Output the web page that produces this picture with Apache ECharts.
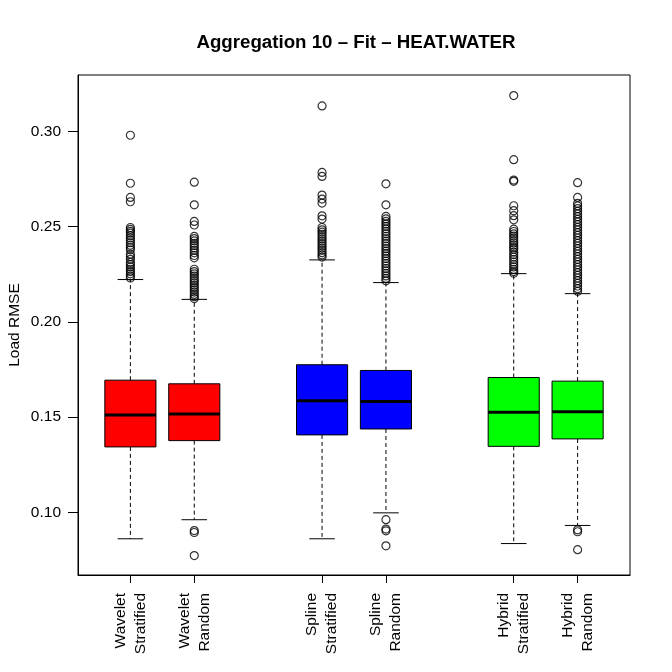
<!DOCTYPE html>
<html>
<head>
<meta charset="utf-8">
<script src="https://cdn.jsdelivr.net/npm/echarts@6/dist/echarts.min.js"></script>
<style>
html,body{margin:0;padding:0;background:#fff;}
#chart{width:672px;height:672px;}
</style>
</head>
<body>
<div id="chart"></div>
<script>
// ---- Data ----
var categories = ['Wavelet\nStratified', 'Wavelet\nRandom', 'Spline\nStratified', 'Spline\nRandom', 'Hybrid\nStratified', 'Hybrid\nRandom'];
var positions = [1, 2, 4, 5, 7, 8];
var boxColors = ['#FF0000', '#FF0000', '#0000FF', '#0000FF', '#00FF00', '#00FF00'];
var whiskerLow  = [0.0862, 0.0962, 0.0862, 0.0998, 0.0837, 0.0932];
var quart1      = [0.1344, 0.1377, 0.1407, 0.1438, 0.1347, 0.1386];
var medians     = [0.1512, 0.1517, 0.1586, 0.1582, 0.1526, 0.1528];
var quart3      = [0.1694, 0.1675, 0.1775, 0.1745, 0.1708, 0.1689];
var whiskerHigh = [0.2222, 0.2118, 0.2325, 0.2206, 0.2253, 0.2148];
var outliersWS = [0.2979, 0.2727, 0.2653, 0.2630, 0.2495, 0.2485, 0.2475, 0.2465, 0.2452, 0.2440, 0.2428, 0.2415, 0.2402, 0.2390, 0.2378, 0.2355, 0.2342, 0.2328, 0.2312, 0.2300, 0.2288, 0.2276, 0.2264, 0.2252, 0.2240, 0.2230];
var outliersWR = [0.2733, 0.2614, 0.2527, 0.2508, 0.2448, 0.2437, 0.2425, 0.2412, 0.2400, 0.2388, 0.2375, 0.2362, 0.2348, 0.2336, 0.2276, 0.2264, 0.2252, 0.2240, 0.2228, 0.2216, 0.2204, 0.2192, 0.2180, 0.2168, 0.2156, 0.2144, 0.2132, 0.2122, 0.0905, 0.0895, 0.0774];
var outliersSS = [0.3133, 0.2784, 0.2763, 0.2665, 0.2644, 0.2623, 0.2556, 0.2539, 0.2495, 0.2483, 0.2471, 0.2459, 0.2447, 0.2435, 0.2423, 0.2411, 0.2399, 0.2387, 0.2375, 0.2363, 0.2351, 0.2340];
var outliersSR = [0.2724, 0.2614, 0.2553, 0.2540, 0.2527, 0.2514, 0.2501, 0.2488, 0.2475, 0.2462, 0.2449, 0.2436, 0.2423, 0.2410, 0.2397, 0.2384, 0.2371, 0.2358, 0.2345, 0.2332, 0.2319, 0.2306, 0.2293, 0.2280, 0.2267, 0.2254, 0.2241, 0.2228, 0.2215, 0.0962, 0.0913, 0.0904, 0.0825];
var outliersHS = [0.3187, 0.2851, 0.2744, 0.2737, 0.2609, 0.2583, 0.2557, 0.2535, 0.2486, 0.2474, 0.2462, 0.2450, 0.2438, 0.2426, 0.2414, 0.2402, 0.2390, 0.2381, 0.2366, 0.2353, 0.2340, 0.2327, 0.2314, 0.2301, 0.2288, 0.2275, 0.2264, 0.2255];
var outliersHR = [0.2730, 0.2653, 0.2622, 0.2608, 0.2594, 0.2580, 0.2566, 0.2552, 0.2538, 0.2524, 0.2510, 0.2496, 0.2482, 0.2468, 0.2454, 0.2440, 0.2426, 0.2412, 0.2398, 0.2384, 0.2370, 0.2356, 0.2342, 0.2328, 0.2314, 0.2300, 0.2286, 0.2272, 0.2258, 0.2244, 0.2230, 0.2216, 0.2202, 0.2188, 0.2174, 0.2160, 0.0909, 0.0899, 0.0805];
var yTicks = [0.10, 0.15, 0.20, 0.25, 0.30];
var titleText = 'Aggregation 10 \u2013 Fit \u2013 HEAT.WATER';
var yTitle = 'Load RMSE';

// ---- Build series data ----
var outlierLists = [outliersWS, outliersWR, outliersSS, outliersSR, outliersHS, outliersHR];
var boxData = positions.map(function (p, i) {
  return [p, whiskerLow[i], quart1[i], medians[i], quart3[i], whiskerHigh[i], i];
});
var outlierData = [];
outlierLists.forEach(function (list, i) {
  list.forEach(function (v) { outlierData.push([positions[i], v]); });
});

var FONT = '"Liberation Sans", Arial, Helvetica, sans-serif';
var chart = echarts.init(document.getElementById('chart'), null, {renderer: 'canvas'});

var option = {
  animation: false,
  backgroundColor: '#ffffff',
  grid: {left: 78, right: 42, top: 75, bottom: 97, show: true, borderColor: '#000', borderWidth: 1, backgroundColor: 'transparent'},
  xAxis: {
    type: 'value', min: 0.18, max: 8.82,
    splitLine: {show: false},
    axisLine: {show: true, onZero: false, lineStyle: {color: '#000', width: 1}},
    axisTick: {show: true, length: 8, customValues: positions, lineStyle: {color: '#000'}},
    axisLabel: {
      show: true, customValues: positions, rotate: 90, margin: 18,
      fontFamily: FONT, fontSize: 15.5, color: '#000', lineHeight: 20,
      formatter: function (v) { var k = positions.indexOf(Math.round(v)); return k >= 0 ? categories[k] : ''; }
    }
  },
  yAxis: {
    type: 'value', min: 0.0672, max: 0.3295,
    splitLine: {show: false},
    axisLine: {show: true, onZero: false, lineStyle: {color: '#000', width: 1}},
    axisTick: {show: true, length: 10, customValues: yTicks, lineStyle: {color: '#000'}},
    axisLabel: {
      show: true, customValues: yTicks, margin: 17,
      fontFamily: FONT, fontSize: 15.5, color: '#000',
      formatter: function (v) { return v.toFixed(2); }
    }
  },
  graphic: [
    {type: 'text', x: 356, y: 43, style: {text: titleText, font: 'bold 18.7px ' + FONT, fill: '#000', textAlign: 'center', textVerticalAlign: 'middle'}},
    {type: 'text', x: 15, y: 325, rotation: Math.PI / 2, style: {text: yTitle, font: '15.5px ' + FONT, fill: '#000', textAlign: 'center', textVerticalAlign: 'middle'}}
  ],
  series: [
    {
      type: 'custom',
      data: boxData,
      encode: {x: 0, y: [1, 2, 3, 4, 5]},
      renderItem: function (params, api) {
        var x = api.value(0);
        var idx = api.value(6);
        var lo = api.coord([x, api.value(1)]);
        var q1 = api.coord([x, api.value(2)]);
        var md = api.coord([x, api.value(3)]);
        var q3 = api.coord([x, api.value(4)]);
        var hi = api.coord([x, api.value(5)]);
        var w = api.size([0.8, 0])[0];
        var cx = lo[0];
        var dashed = {stroke: '#000', lineWidth: 1, lineDash: [4, 3]};
        var solid = {stroke: '#000', lineWidth: 1};
        return {
          type: 'group',
          children: [
            {type: 'line', shape: {x1: cx, y1: q3[1], x2: cx, y2: hi[1]}, style: dashed},
            {type: 'line', shape: {x1: cx, y1: q1[1], x2: cx, y2: lo[1]}, style: dashed},
            {type: 'line', shape: {x1: cx - w / 4, y1: hi[1], x2: cx + w / 4, y2: hi[1]}, style: solid},
            {type: 'line', shape: {x1: cx - w / 4, y1: lo[1], x2: cx + w / 4, y2: lo[1]}, style: solid},
            {type: 'rect', shape: {x: cx - w / 2, y: q3[1], width: w, height: q1[1] - q3[1]}, style: {fill: boxColors[idx], stroke: '#000', lineWidth: 1}},
            {type: 'line', shape: {x1: cx - w / 2, y1: md[1], x2: cx + w / 2, y2: md[1]}, style: {stroke: '#000', lineWidth: 3}}
          ]
        };
      }
    },
    {
      type: 'scatter',
      data: outlierData,
      symbol: 'circle',
      symbolSize: 8,
      itemStyle: {color: 'rgba(0,0,0,0)', borderColor: '#000', borderWidth: 1.2},
      z: 3
    }
  ]
};
chart.setOption(option);
</script>
</body>
</html>
